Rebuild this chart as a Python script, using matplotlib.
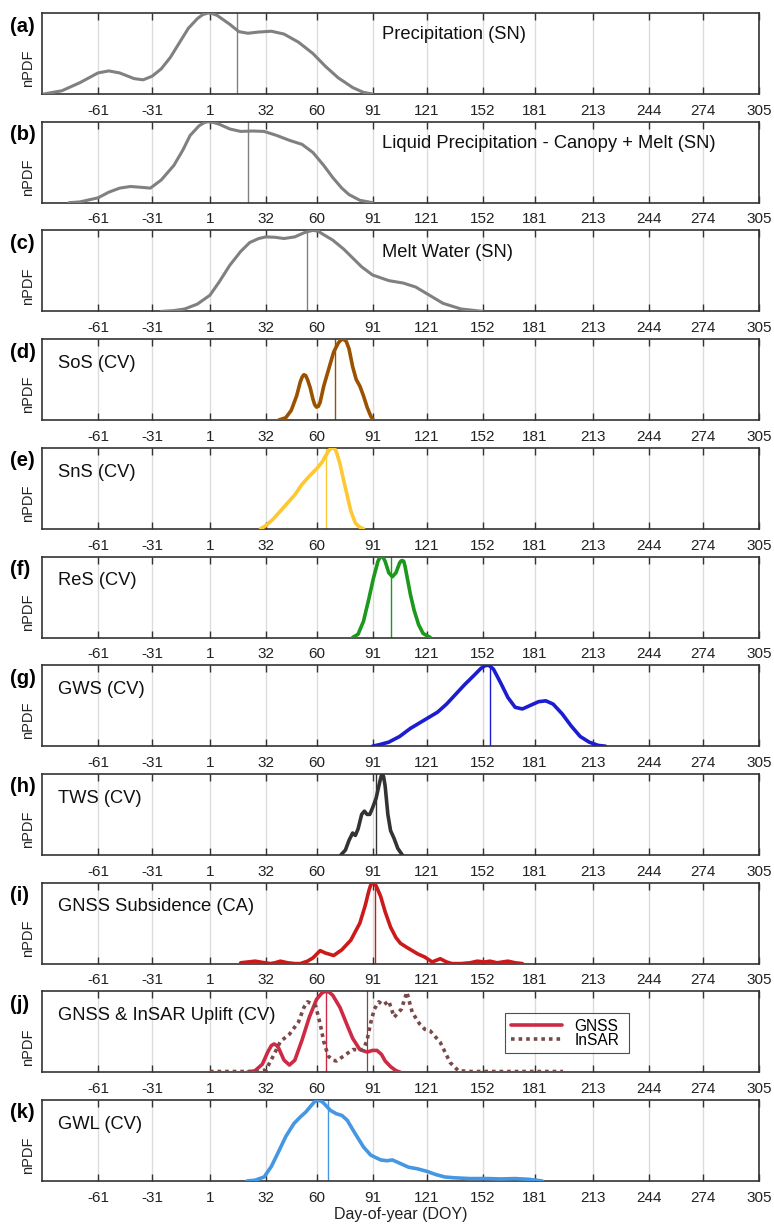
import matplotlib
matplotlib.use("Agg")
import matplotlib.pyplot as plt

plt.rcParams['font.family'] = ['Liberation Sans', 'DejaVu Sans']

# day-of-year ticks shared by every panel
doy_ticks = [-61, -31, 1, 32, 60, 91, 121, 152, 181, 213, 244, 274, 305]

# (a) Precipitation (SN)
a_x = [-91, -81, -71, -61, -55, -49, -41, -36, -31, -26, -21, -16, -11, -6, -3, 0, 2, 5, 12, 17, 22, 28, 35, 42, 50, 58, 65, 72, 80, 86, 91]
a_y = [0, 0.04, 0.14, 0.26, 0.285, 0.26, 0.19, 0.175, 0.22, 0.31, 0.45, 0.63, 0.81, 0.93, 0.98, 1.0, 0.995, 0.97, 0.86, 0.77, 0.75, 0.765, 0.775, 0.74, 0.64, 0.5, 0.34, 0.2, 0.08, 0.02, 0]
a_med = 16

# (b) Liquid Precipitation - Canopy + Melt (SN)
b_x = [-77, -71, -61, -55, -49, -43, -37, -32, -26, -19, -14, -10, -5, -2, 0, 3, 6, 12, 18, 25, 31, 38, 45, 52, 58, 64, 69, 74, 78, 84, 91]
b_y = [0, 0.01, 0.06, 0.13, 0.18, 0.2, 0.19, 0.18, 0.28, 0.46, 0.65, 0.83, 0.95, 0.99, 1.0, 0.99, 0.97, 0.91, 0.88, 0.885, 0.88, 0.83, 0.77, 0.72, 0.62, 0.46, 0.31, 0.18, 0.1, 0.03, 0]
b_med = 22

# (c) Melt Water (SN)
c_x = [-26, -19, -13, -6, 1, 6, 12, 18, 23, 28, 32, 37, 42, 48, 53, 56, 58, 61, 63, 69, 75, 80, 85, 91, 100, 108, 115, 121, 130, 140, 152]
c_y = [0, 0.01, 0.03, 0.09, 0.2, 0.36, 0.57, 0.74, 0.85, 0.9, 0.92, 0.915, 0.9, 0.92, 0.97, 0.99, 1.0, 0.99, 0.96, 0.88, 0.77, 0.66, 0.55, 0.45, 0.38, 0.35, 0.3, 0.22, 0.1, 0.03, 0]
c_med = 55

# (d) SoS (CV)
d_x = [39, 43, 46, 49, 51, 52, 53, 54, 55, 56.5, 58, 59, 60, 61, 62, 64, 67, 69.5, 72, 73.5, 75, 76.5, 78, 80, 82, 84, 86, 88, 90, 91.5]
d_y = [0, 0.03, 0.12, 0.3, 0.47, 0.53, 0.56, 0.55, 0.5, 0.4, 0.26, 0.19, 0.16, 0.17, 0.22, 0.42, 0.65, 0.84, 0.95, 0.99, 1.0, 0.97, 0.88, 0.66, 0.5, 0.42, 0.3, 0.16, 0.05, 0]
d_med = 70.5

# (e) SnS (CV)
e_x = [29, 32, 36, 40, 44, 48, 52, 56, 60, 63, 65, 67, 68, 69, 70, 71, 73, 75, 77, 79, 81.5, 84, 86]
e_y = [0, 0.04, 0.12, 0.22, 0.32, 0.42, 0.55, 0.65, 0.74, 0.82, 0.9, 0.97, 0.99, 1.0, 0.99, 0.95, 0.8, 0.6, 0.41, 0.22, 0.07, 0.02, 0]
e_med = 65

# (f) ReS (CV)
f_x = [80, 83, 86, 89, 91.5, 94, 95, 96, 97, 98, 100, 102, 104, 106, 106.8, 107.5, 108.3, 109, 112, 114, 116.5, 119, 123]
f_y = [0, 0.04, 0.2, 0.48, 0.73, 0.94, 0.985, 1.0, 0.985, 0.94, 0.8, 0.75, 0.8, 0.92, 0.945, 0.95, 0.94, 0.88, 0.53, 0.34, 0.16, 0.05, 0]
f_med = 101

# (g) GWS (CV)
g_x = [91, 95, 100, 106, 112, 118, 121, 127, 132, 137, 142, 147, 151, 153, 154.5, 156, 158, 162, 166, 170, 174, 178, 183, 187, 191, 196, 201, 206, 211, 216, 220]
g_y = [0, 0.02, 0.05, 0.12, 0.22, 0.3, 0.34, 0.42, 0.52, 0.64, 0.76, 0.87, 0.96, 0.99, 1.0, 0.99, 0.95, 0.78, 0.6, 0.48, 0.46, 0.5, 0.55, 0.56, 0.52, 0.4, 0.25, 0.12, 0.05, 0.01, 0]
g_med = 156

# (h) TWS (CV)
h_x = [73.5, 76, 78, 80, 81.5, 83, 85, 86.5, 88, 89.5, 91, 93, 95, 95.8, 96.5, 97.2, 98, 99.5, 101, 103, 105, 107.5]
h_y = [0, 0.06, 0.18, 0.27, 0.24, 0.32, 0.5, 0.54, 0.5, 0.5, 0.58, 0.7, 0.9, 0.97, 1.0, 0.96, 0.85, 0.5, 0.3, 0.2, 0.08, 0]
h_med = 93

# (i) GNSS Subsidence (CA)
i_x = [18, 22, 26, 30, 34.5, 37, 40, 44, 48, 51, 55, 58, 62, 65, 69.5, 74, 79, 84, 87, 89, 90, 91, 92, 93, 95.5, 98, 101, 104, 106.5, 110, 113, 116, 120, 124, 128.5, 132, 135, 140, 145, 149, 153, 156, 160, 163, 166, 170, 174]
i_y = [0.01, 0.02, 0.03, 0.015, 0.0, 0.01, 0.03, 0.01, 0.0, 0.0, 0.03, 0.07, 0.16, 0.13, 0.1, 0.17, 0.29, 0.5, 0.72, 0.9, 0.97, 1.0, 0.99, 0.96, 0.83, 0.64, 0.45, 0.32, 0.25, 0.2, 0.16, 0.12, 0.08, 0.02, 0.06, 0.02, 0.0, 0.0, 0.01, 0.03, 0.02, 0.03, 0.01, 0.02, 0.03, 0.01, 0.0]
i_med = 92.5

# (j) GNSS & InSAR Uplift (CV)
j_gnss_x = [21.5, 26, 30, 33, 35, 36.5, 38, 39, 42, 45, 48, 52, 56, 60, 63, 65, 67, 69, 73, 77, 80, 84, 88, 91, 93.5, 96, 98, 101, 104, 106.5]
j_gnss_y = [0, 0.02, 0.1, 0.25, 0.33, 0.35, 0.33, 0.3, 0.15, 0.09, 0.15, 0.4, 0.68, 0.9, 0.98, 1.0, 0.99, 0.95, 0.8, 0.58, 0.42, 0.28, 0.25, 0.27, 0.27, 0.22, 0.14, 0.07, 0.02, 0]
j_gnss_med = 65.5
j_insar_x = [1, 10, 20, 28, 32, 36, 40, 45, 50, 53, 55, 57, 59.5, 62, 64, 66.5, 69, 71, 75, 80, 86, 88, 90, 92, 94.5, 97, 100, 103, 107, 110, 113, 117, 120, 123, 128.5, 134, 138.5, 145, 160, 180, 196.5]
j_insar_y = [0.01, 0.01, 0.01, 0.01, 0.03, 0.2, 0.38, 0.47, 0.62, 0.8, 0.87, 0.85, 0.82, 0.6, 0.38, 0.2, 0.15, 0.14, 0.2, 0.28, 0.28, 0.4, 0.61, 0.78, 0.87, 0.83, 0.88, 0.68, 0.78, 0.99, 0.74, 0.6, 0.53, 0.51, 0.37, 0.12, 0.02, 0.01, 0.01, 0.01, 0.01]
j_insar_med = 88

# (k) GWL (CV)
k_x = [21.5, 26, 31, 35, 38.5, 43, 47.5, 51, 54, 57, 59, 61, 63, 64, 67.8, 71, 74, 77, 81, 86, 90, 95.5, 99, 102, 106, 111, 116, 121, 126, 131, 136, 145, 155, 162, 170, 178, 185]
k_y = [0, 0.01, 0.05, 0.18, 0.34, 0.55, 0.71, 0.79, 0.85, 0.93, 0.98, 1.0, 0.98, 0.96, 0.87, 0.83, 0.81, 0.75, 0.6, 0.42, 0.32, 0.26, 0.25, 0.26, 0.22, 0.17, 0.15, 0.12, 0.08, 0.05, 0.04, 0.03, 0.03, 0.025, 0.03, 0.02, 0]
k_med = 66.5

panels = [
    ("(a)", "Precipitation (SN)", a_x, a_y, a_med, "#808080", "right"),
    ("(b)", "Liquid Precipitation - Canopy + Melt (SN)", b_x, b_y, b_med, "#808080", "right"),
    ("(c)", "Melt Water (SN)", c_x, c_y, c_med, "#808080", "right"),
    ("(d)", "SoS (CV)", d_x, d_y, d_med, "#9a5200", "left"),
    ("(e)", "SnS (CV)", e_x, e_y, e_med, "#fdc830", "left"),
    ("(f)", "ReS (CV)", f_x, f_y, f_med, "#1c981c", "left"),
    ("(g)", "GWS (CV)", g_x, g_y, g_med, "#1c1cd0", "left"),
    ("(h)", "TWS (CV)", h_x, h_y, h_med, "#333333", "left"),
    ("(i)", "GNSS Subsidence (CA)", i_x, i_y, i_med, "#cc1a1a", "left"),
    ("(j)", "GNSS & InSAR Uplift (CV)", j_gnss_x, j_gnss_y, j_gnss_med, "#cc2a45", "left"),
    ("(k)", "GWL (CV)", k_x, k_y, k_med, "#4597e3", "left"),
]

W, H = 774, 1226
fig = plt.figure(figsize=(W / 100, H / 100), dpi=100)

left_px, width_px, height_px = 42, 717, 81
pitch = 108.7

for n, (lab, title, xs, ys, med, col, side) in enumerate(panels):
    top_px = 13 + n * pitch
    ax = fig.add_axes([left_px / W, 1 - (top_px + height_px) / H, width_px / W, height_px / H])
    for t in doy_ticks:
        ax.axvline(t, color="#dcdcdc", lw=1.0, zorder=0)
    lw = 2.2 if col == "#808080" else 2.6
    main_line, = ax.plot(xs, ys, color=col, lw=lw, solid_joinstyle="round",
                         solid_capstyle="round", zorder=3, label="GNSS")
    ax.plot([med, med], [0, 1], color=col, lw=1.0, zorder=2)
    if lab == "(j)":
        insar_line, = ax.plot(j_insar_x, j_insar_y, color="#7a4848", lw=2.6,
                              ls=(0, (1, 1.1)), zorder=3, label="InSAR")
        ax.plot([j_insar_med, j_insar_med], [0, 1], color="#7a4848", lw=0.9, zorder=2)
        leg = ax.legend(handles=[main_line, insar_line],
                        loc="lower left", bbox_to_anchor=(0.646, 0.235, 0.173, 0.555),
                        mode="expand", fontsize=11.2, frameon=True, fancybox=False,
                        edgecolor="#222222", handlelength=3.3, borderaxespad=0,
                        borderpad=0.35, labelspacing=-0.05, handletextpad=0.8)
        leg.get_frame().set_linewidth(0.8)
    ax.set_xlim(-92, 305)
    ax.set_ylim(0, 1)
    ax.set_xticks(doy_ticks)
    ax.set_xticklabels([str(t) for t in doy_ticks], fontsize=11, color="#222222")
    ax.set_yticks([])
    ax.tick_params(axis="x", direction="in", top=True, length=5, width=1.0, color="#333333", pad=7)
    for s in ax.spines.values():
        s.set_color("#333333")
        s.set_linewidth(1.2)
    ax.set_ylabel("nPDF", fontsize=10.5, color="#222222")
    ax.yaxis.set_label_coords(-0.0098, 0.315)
    if side == "right":
        ax.text(0.474, 0.73, title, transform=ax.transAxes, fontsize=13.2, va="center", ha="left", color="#111111")
    else:
        ax.text(0.022, 0.70, title, transform=ax.transAxes, fontsize=13.2, va="center", ha="left", color="#111111")
    fig.text(10 / W, 1 - (top_px + 13) / H, lab, fontsize=14.5, fontweight="bold", va="center", ha="left")
    if n == len(panels) - 1:
        ax.set_xlabel("Day-of-year (DOY)", fontsize=11.5, color="#222222", labelpad=2)

fig.savefig("out.png", dpi=100)
